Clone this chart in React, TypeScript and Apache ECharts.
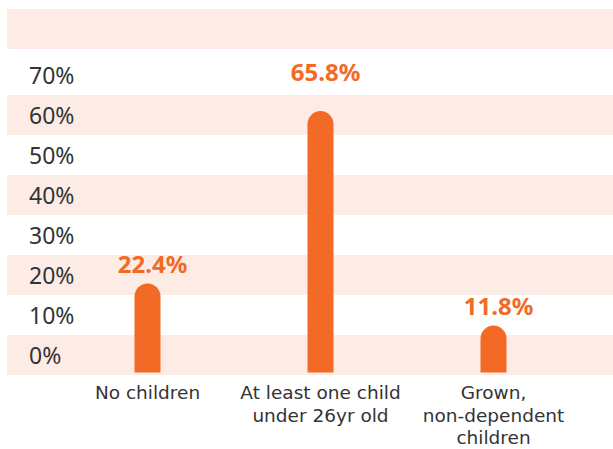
import React, { useEffect, useRef } from "react";
import * as echarts from "echarts";

const categories = [
  "No children",
  "At least one child\nunder 26yr old",
  "Grown,\nnon-dependent\nchildren",
];
const values = [22.4, 65.8, 11.8];
const tickLabels = ["0%", "10%", "20%", "30%", "40%", "50%", "60%", "70%", ""];
const bandRanges = [
  [0, 10],
  [20, 30],
  [40, 50],
  [60, 70],
  [81.5, 91.5],
];

const ORANGE = "#F26A25";
const BAND = "#FDECE5";
const TEXT = "#333333";

export default function App() {
  const ref = useRef<HTMLDivElement>(null);
  useEffect(() => {
    if (!ref.current) return;
    const chart = echarts.init(ref.current, undefined, { renderer: "svg" });
    const yMax = 92;
    chart.setOption({
      animation: false,
      backgroundColor: "#ffffff",
      grid: [
        { left: 7, right: 0, top: 7, bottom: 74 },
        { left: 61, right: 33, top: 7, bottom: 74 },
        { left: 7, right: 0, top: 15, bottom: 74 },
      ],
      xAxis: [
        { gridIndex: 0, type: "value", min: 0, max: 1, show: false },
        {
          gridIndex: 1,
          type: "category",
          data: categories,
          axisLine: { show: false },
          axisTick: { show: false },
          axisLabel: {
            color: TEXT,
            fontFamily: "DejaVu Sans",
            fontSize: 18.5,
            lineHeight: 22.5,
            margin: 9,
            interval: 0,
          },
        },
        { gridIndex: 2, type: "value", min: 0, max: 1, show: false },
      ],
      yAxis: [
        {
          gridIndex: 0,
          type: "value",
          min: 0,
          max: yMax,
          show: false,
        },
        {
          gridIndex: 1,
          type: "value",
          min: 0,
          max: yMax,
          show: false,
        },
        {
          gridIndex: 2,
          type: "category",
          data: tickLabels,
          boundaryGap: true,
          z: 10,
          axisLine: { show: false },
          axisTick: { show: false },
          splitLine: { show: false },
          splitArea: { show: false },
          axisLabel: {
            inside: true,
            align: "left",
            margin: 22,
            interval: 0,
            color: TEXT,
            fontFamily: "Noto Sans",
            fontSize: 23,
          },
        },
      ],
      series: [
        {
          type: "line",
          xAxisIndex: 0,
          yAxisIndex: 0,
          data: [],
          silent: true,
          z: 0,
          markArea: {
            silent: true,
            itemStyle: { color: BAND },
            data: bandRanges.map(([a, b]) => [{ yAxis: a }, { yAxis: b }]),
          },
        },
        {
          type: "bar",
          xAxisIndex: 1,
          yAxisIndex: 1,
          barWidth: 26,
          z: 5,
          itemStyle: { color: ORANGE, borderRadius: [13, 13, 0, 0] },
          data: values.map((v, i) => ({
            value: v,
            label: { distance: i === 1 ? 28 : 8 },
          })),
          label: {
            show: true,
            position: "top",
            offset: [5, 0],
            color: ORANGE,
            fontFamily: "Noto Sans",
            fontWeight: "bold",
            fontSize: 24,
            lineHeight: 24,
            formatter: (p: any) => `${p.value}%`,
          },
        },
      ],
    });
    return () => chart.dispose();
  }, []);
  return (
    <div
      ref={ref}
      style={{ position: "absolute", left: 0, top: 0, width: 613, height: 449 }}
    />
  );
}
